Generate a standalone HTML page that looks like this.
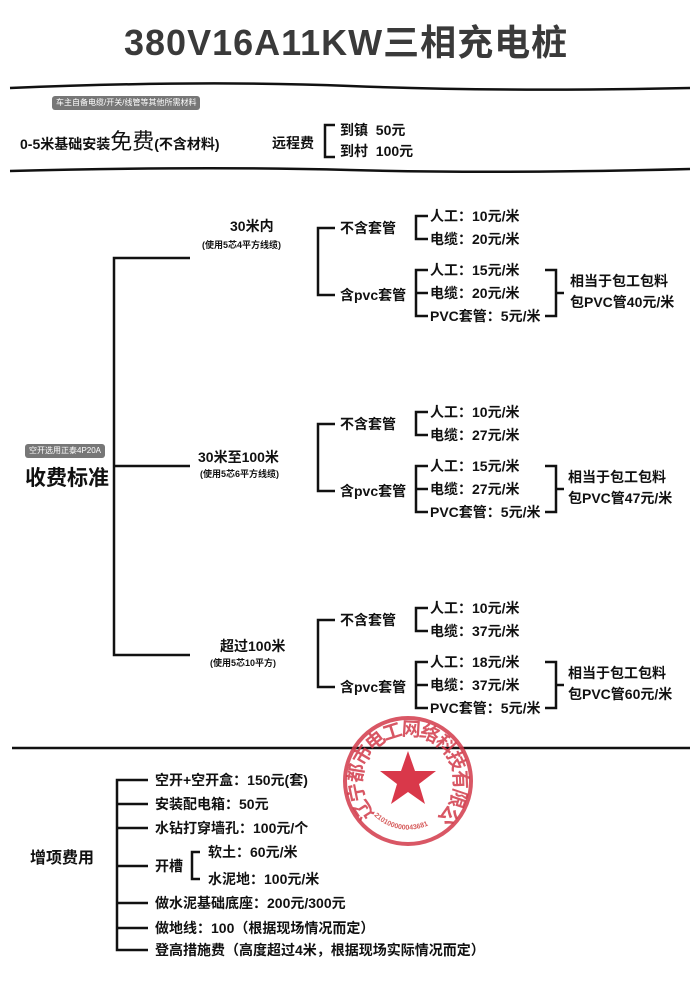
<!DOCTYPE html>
<html><head><meta charset="utf-8"><style>
body{margin:0;width:700px;height:984px;background:#fff;position:relative;overflow:hidden;font-family:"Liberation Sans","Noto Sans CJK SC",sans-serif;color:#111}
.t{position:absolute;white-space:nowrap;font-weight:bold;font-size:14px;line-height:16px}
.s{font-size:9px;line-height:11px}
.b{position:absolute;background:#777;color:#fff;font-size:8px;line-height:14px;padding:0 4px;border-radius:3px;white-space:nowrap}
svg{position:absolute;left:0;top:0}
</style></head><body>
<svg width="700" height="984">
<g stroke="#111" stroke-width="2.5" fill="none">
<path d="M10 88 Q200 80 350 86 T690 88"/>
<path d="M10 171 Q200 166 350 170 T690 169"/>
<line x1="12" y1="748" x2="690" y2="748"/>
<path d="M335 125 H325 V157 H335"/>
<path d="M190 258 H114 V655 H190"/>
<line x1="114" y1="466" x2="190" y2="466"/>
<path d="M148 780 H117 V950 H148"/>
<g><line x1="117" y1="804" x2="148" y2="804"/><line x1="117" y1="828" x2="148" y2="828"/><line x1="117" y1="866" x2="148" y2="866"/><line x1="117" y1="903" x2="148" y2="903"/><line x1="117" y1="928" x2="148" y2="928"/></g>
<path d="M200 852 H192 V879 H200"/>
</g>
<g id="sec" stroke="#111" stroke-width="2.5" fill="none">
<path d="M335 228 H318 V295 H335"/>
<path d="M428 216 H416 V239 H428"/>
<path d="M428 270 H416 V316 H428"/>
<line x1="416" y1="293" x2="428" y2="293"/>
<path d="M545 270 H556 V316 H545"/>
<line x1="556" y1="293" x2="564" y2="293"/>
</g>
<use href="#sec" y="196"/>
<use href="#sec" y="392"/>
<g transform="translate(408,781)">
<circle r="63" fill="none" stroke="#d23a4a" stroke-width="4" opacity=".85"/>
<polygon points="0,-30 7,-10 28,-10 11,3 17,23 0,11 -17,23 -11,3 -28,-10 -7,-10" fill="#d9384a"/>
<defs><path id="arc" d="M-44,40 A59,59 0 1,1 44,40"/><path id="arc2" d="M-38,30 A48,48 0 0,0 38,30"/></defs>
<text font-family="Liberation Sans,Noto Sans CJK SC,sans-serif" font-weight="bold" font-size="19" fill="#d23a4a" opacity=".85" dominant-baseline="hanging"><textPath href="#arc" textLength="300" lengthAdjust="spacing">辽宁都市电工网络科技有限公司</textPath></text>
<text font-family="Liberation Sans,sans-serif" font-size="7" font-weight="bold" fill="#c33" opacity=".8"><textPath href="#arc2" startOffset="6">210100000043681</textPath></text>
</g>
</svg>
<div class="t" style="left:124px;top:20px;font-size:36px;line-height:46px;color:#3a3a3a;letter-spacing:1px">380V16A11KW三相充电桩</div>
<div class="b" style="left:52px;top:96px">车主自备电缆/开关/线管等其他所需材料</div>
<div class="t" style="left:20px;top:134px">0-5米基础安装<span style="font-size:22px;font-weight:normal">免费</span>(不含材料)</div>
<div class="t" style="left:272px;top:135px">远程费</div>
<div class="t" style="left:340px;top:122px">到镇&nbsp; 50元</div>
<div class="t" style="left:340px;top:143px">到村&nbsp; 100元</div>

<div class="b" style="left:25px;top:444px">空开选用正泰4P20A</div>
<div class="t" style="left:25px;top:466px;font-size:21px;line-height:25px">收费标准</div>

<div class="t" style="left:230px;top:218px">30米内</div>
<div class="t s" style="left:202px;top:240px">(使用5芯4平方线缆)</div>
<div class="t" style="left:198px;top:449px">30米至100米</div>
<div class="t s" style="left:200px;top:469px">(使用5芯6平方线缆)</div>
<div class="t" style="left:220px;top:638px">超过100米</div>
<div class="t s" style="left:210px;top:658px">(使用5芯10平方)</div>

<div style="position:absolute;left:0;top:0">
<div class="t" style="left:340px;top:220px">不含套管</div>
<div class="t" style="left:340px;top:287px">含pvc套管</div>
<div class="t" style="left:430px;top:208px">人工：10元/米</div>
<div class="t" style="left:430px;top:231px">电缆：20元/米</div>
<div class="t" style="left:430px;top:262px">人工：15元/米</div>
<div class="t" style="left:430px;top:285px">电缆：20元/米</div>
<div class="t" style="left:430px;top:308px">PVC套管：5元/米</div>
<div class="t" style="left:570px;top:273px">相当于包工包料</div>
<div class="t" style="left:570px;top:294px">包PVC管40元/米</div>
</div>
<div style="position:absolute;left:0;top:196px">
<div class="t" style="left:340px;top:220px">不含套管</div>
<div class="t" style="left:340px;top:287px">含pvc套管</div>
<div class="t" style="left:430px;top:208px">人工：10元/米</div>
<div class="t" style="left:430px;top:231px">电缆：27元/米</div>
<div class="t" style="left:430px;top:262px">人工：15元/米</div>
<div class="t" style="left:430px;top:285px">电缆：27元/米</div>
<div class="t" style="left:430px;top:308px">PVC套管：5元/米</div>
<div class="t" style="left:568px;top:273px">相当于包工包料</div>
<div class="t" style="left:568px;top:294px">包PVC管47元/米</div>
</div>
<div style="position:absolute;left:0;top:392px">
<div class="t" style="left:340px;top:220px">不含套管</div>
<div class="t" style="left:340px;top:287px">含pvc套管</div>
<div class="t" style="left:430px;top:208px">人工：10元/米</div>
<div class="t" style="left:430px;top:231px">电缆：37元/米</div>
<div class="t" style="left:430px;top:262px">人工：18元/米</div>
<div class="t" style="left:430px;top:285px">电缆：37元/米</div>
<div class="t" style="left:430px;top:308px">PVC套管：5元/米</div>
<div class="t" style="left:568px;top:273px">相当于包工包料</div>
<div class="t" style="left:568px;top:294px">包PVC管60元/米</div>
</div>

<div class="t" style="left:30px;top:849px;font-size:16px;line-height:20px">增项费用</div>
<div class="t" style="left:155px;top:772px">空开+空开盒：150元(套)</div>
<div class="t" style="left:155px;top:796px">安装配电箱：50元</div>
<div class="t" style="left:155px;top:820px">水钻打穿墙孔：100元/个</div>
<div class="t" style="left:155px;top:858px">开槽</div>
<div class="t" style="left:208px;top:844px">软土：60元/米</div>
<div class="t" style="left:208px;top:871px">水泥地：100元/米</div>
<div class="t" style="left:155px;top:895px">做水泥基础底座：200元/300元</div>
<div class="t" style="left:155px;top:920px">做地线：100（根据现场情况而定）</div>
<div class="t" style="left:155px;top:942px">登高措施费（高度超过4米，根据现场实际情况而定）</div>
</body></html>
